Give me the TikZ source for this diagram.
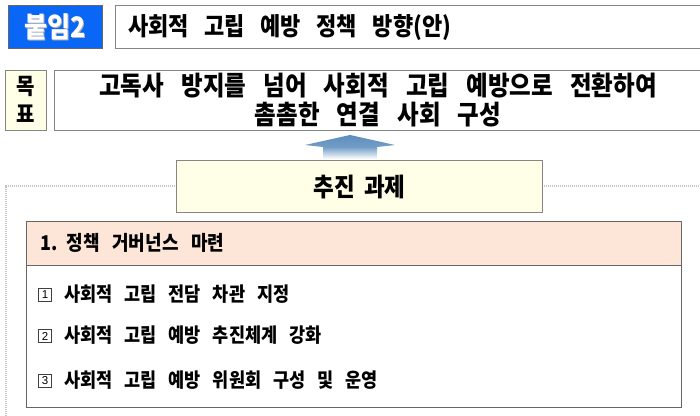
\documentclass[tikz,border=0pt]{standalone}
\usepackage{fontspec}
\usepackage{graphicx}
\setmainfont{Noto Sans CJK KR}
\newfontfamily\numfont{Liberation Sans}
\definecolor{bblue}{HTML}{0A66F5}
\definecolor{lyellow}{HTML}{FFFEE6}
\definecolor{lpeach}{HTML}{FDE6D8}
\definecolor{bgray}{HTML}{858585}
\definecolor{arrblue}{HTML}{5B8DBD}
\newcommand{\kfont}[2]{\bfseries\fontsize{#1}{#1}\selectfont\spaceskip=#2\fontdimen2\font\relax}
\newcommand{\tall}[1]{\scalebox{1}[1.13]{#1}}
\begin{document}
\begin{tikzpicture}[x=1pt,y=-1pt,
  box/.style={draw=bgray,line width=1.2pt},
  kt/.style={inner sep=0pt},
  sq/.style={draw=black!75,line width=0.7pt,minimum size=13.5pt,inner sep=0pt,font=\numfont\fontsize{11.5}{11.5}\selectfont}]
\useasboundingbox (0,0) rectangle (700,415);
\fill[white] (0,0) rectangle (700,415);
% outer dotted frame
\draw[gray!45,line width=1.4pt,dash pattern=on 1.2pt off 0.8pt] (701,186) -- (6,186) -- (6,416);
% header
\node[box,fill=bblue,draw=black!60,minimum width=94pt,minimum height=43pt,anchor=north west,inner sep=0pt] (tag) at (8,5) {};
\node[kt,text=gray!60,font=\kfont{25}{1}] (tags) at ([xshift=1pt,yshift=-1pt]tag.center) {\tall{붙임2}};
\node[kt,text=white,font=\kfont{25}{1}] (tagt) at (tag.center) {\tall{붙임2}};
\node[box,fill=white,minimum width=590pt,minimum height=43pt,anchor=north west,inner sep=0pt] (title) at (115,5) {};
\node[kt,anchor=west,font=\kfont{22}{3.1}] (titlet) at (128,27) {\tall{사회적 고립 예방 정책 방향(안)}};
% goal
\node[box,fill=lyellow,minimum width=41pt,minimum height=60pt,anchor=north west,inner sep=0pt] (mok) at (5,70) {};
\node[kt,font=\kfont{20}{1}] (mokt1) at (25.5,86) {\tall{목}};
\node[kt,font=\kfont{20}{1}] (mokt2) at (25.5,114) {\tall{표}};
\node[box,fill=white,minimum width=650pt,minimum height=60pt,anchor=north west,inner sep=0pt] (goal) at (54,70) {};
\node[kt,font=\kfont{23.5}{3.2}] (goal1) at (378,86) {\tall{고독사 방지를 넘어 사회적 고립 예방으로 전환하여}};
\node[kt,font=\kfont{23.5}{3.2}] (goal2) at (378,115) {\tall{촘촘한 연결 사회 구성}};
% arrow
\shade[top color=arrblue,bottom color=white,middle color=arrblue!85]
  (350,135) -- (395,145) -- (377,147) -- (377,159) -- (323,159) -- (323,147) -- (305,145) -- cycle;
% task header
\node[box,fill=lyellow,minimum width=366pt,minimum height=52pt,anchor=north west,inner sep=0pt] (task) at (176,160) {};
\node[kt,font=\kfont{22.5}{1.8}] (taskt) at (task.center) {\tall{추진 과제}};
% section
\node[box,draw=black!60,fill=lpeach,minimum width=655pt,minimum height=44pt,anchor=north west,inner sep=0pt] (sec) at (26,221) {};
\node[kt,anchor=west,font=\kfont{18}{3.1}] (sect) at (40,243) {\tall{1.\hspace{9pt}정책 거버넌스 마련}};
\node[box,draw=black!60,fill=white,minimum width=655pt,minimum height=142pt,anchor=north west,inner sep=0pt] (body) at (26,265) {};
\node[sq] (n1) at (45,295) {1};
\node[kt,anchor=west,font=\kfont{17.5}{3}] (i1) at (64,294) {\tall{사회적 고립 전담 차관 지정}};
\node[sq] (n2) at (45,336) {2};
\node[kt,anchor=west,font=\kfont{17.5}{3}] (i2) at (64,335) {\tall{사회적 고립 예방 추진체계 강화}};
\node[sq] (n3) at (45,381) {3};
\node[kt,anchor=west,font=\kfont{17.5}{3}] (i3) at (64,380) {\tall{사회적 고립 예방 위원회 구성 및 운영}};
\end{tikzpicture}
\end{document}
